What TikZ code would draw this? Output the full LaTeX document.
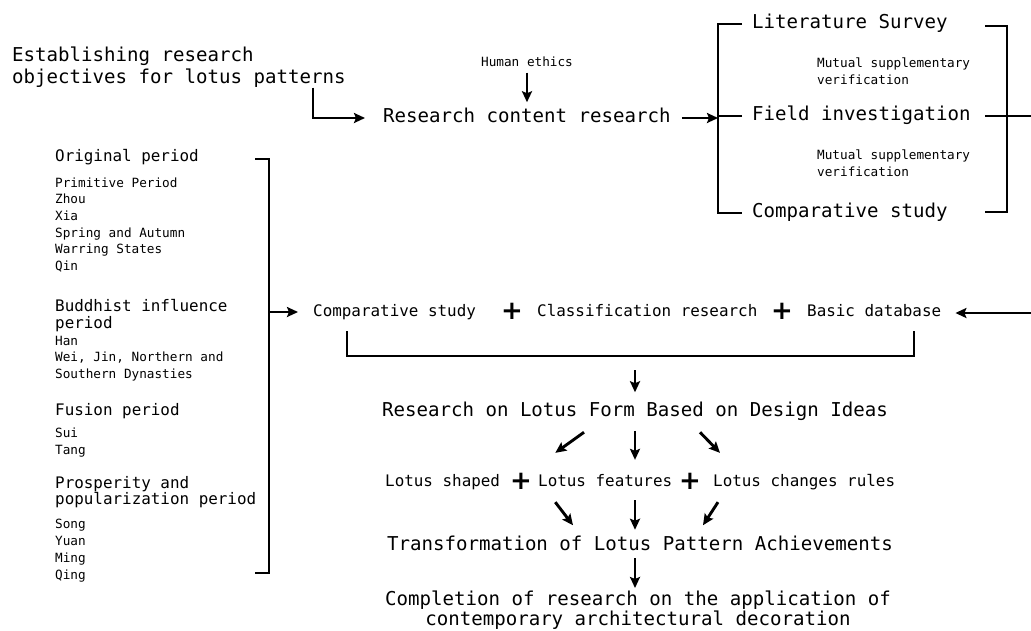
\documentclass[tikz,border=0pt]{standalone}
\usepackage{fontspec}
\setmainfont{DejaVu Sans Mono}
\newfontfamily\plusfont{DejaVu Sans}
\usetikzlibrary{arrows.meta}

\begin{document}
\begin{tikzpicture}[x=1pt, y=-1pt,
  line/.style={line width=2.9pt},
  arr/.style={line width=2.9pt, -{Stealth[length=11pt,width=10pt,inset=2pt]}},
  every node/.style={inner sep=0pt},
  big/.style={font=\fontsize{19.1}{21.7}\selectfont, text height=14.3pt, text depth=4.8pt},
  mid/.style={font=\fontsize{15.9}{17}\selectfont, text height=11.9pt, text depth=4pt},
  sm/.style={font=\fontsize{12.7}{16.8}\selectfont, text height=9.5pt, text depth=3.2pt},
  plus/.style={font=\plusfont\bfseries\fontsize{26}{26}\selectfont}]
\useasboundingbox (0,0) rectangle (1031,630);

\node[font=\fontsize{19.1}{21.7}\selectfont, align=left, anchor=north west] (title) at (12,47) {Establishing research\\objectives for lotus patterns};
\node[sm] (ethics) at (527,63) {Human ethics};
\node[big, anchor=west] (content) at (383,118) {Research content research};
\node[big, anchor=west] (lit) at (752,24) {Literature Survey};
\node[big, anchor=west] (field) at (752,116) {Field investigation};
\node[big, anchor=west] (comp) at (752,213) {Comparative study};
\node[font=\fontsize{12.7}{16.8}\selectfont, align=left, anchor=north west] (mut1) at (817,58) {Mutual supplementary\\verification};
\node[font=\fontsize{12.7}{16.8}\selectfont, align=left, anchor=north west] (mut2) at (817,150) {Mutual supplementary\\verification};

\node[mid, anchor=west] (orig) at (55,158) {Original period};
\foreach \t [count=\i] in {Primitive Period,Zhou,Xia,Spring and Autumn,Warring States,Qin}
  \node[sm, anchor=west] (o\i) at (55,{184+16.7*(\i-1)}) {\t};
\node[font=\fontsize{15.9}{17}\selectfont, align=left, anchor=north west] (budd) at (55,299) {Buddhist influence\\period};
\foreach \t [count=\i] in {Han,{Wei, Jin, Northern and},Southern Dynasties}
  \node[sm, anchor=west] (b\i) at (55,{342+16.5*(\i-1)}) {\t};
\node[mid, anchor=west] (fus) at (55,412) {Fusion period};
\foreach \t [count=\i] in {Sui,Tang}
  \node[sm, anchor=west] (f\i) at (55,{434+17*(\i-1)}) {\t};
\node[font=\fontsize{15.9}{16.5}\selectfont, align=left, anchor=north west] (pros) at (55,476) {Prosperity and\\popularization period};
\foreach \t [count=\i] in {Song,Yuan,Ming,Qing}
  \node[sm, anchor=west] (s\i) at (55,{525+17*(\i-1)}) {\t};

\node[mid, anchor=west] (cmp) at (313,313) {Comparative study};
\node[plus] (pa) at (512,311) {+};
\node[mid, anchor=west] (cls) at (537,313) {Classification research};
\node[plus] (pb) at (782,311) {+};
\node[mid, anchor=west] (basic) at (807,313) {Basic database};

\node[big] (form) at (635,412) {Research on Lotus Form Based on Design Ideas};
\node[mid, anchor=west] (shaped) at (385,483) {Lotus shaped};
\node[plus] (pc) at (521,481) {+};
\node[mid, anchor=west] (feat) at (538,483) {Lotus features};
\node[plus] (pd) at (690,481) {+};
\node[mid, anchor=west] (rules) at (713,483) {Lotus changes rules};
\node[big] (trans) at (640,546) {Transformation of Lotus Pattern Achievements};
\node[font=\fontsize{19.1}{16}\selectfont, align=center, anchor=north] (done) at (638,591) {Completion of research on the application of\\contemporary architectural decoration};

\draw[arr, shorten >=18pt] ([xshift=301pt]title.south west) |- (content.west);
\draw[arr, shorten <=3pt, shorten >=6pt] (ethics.south) -- (ethics.south |- content.north);
\coordinate (rbar) at ([xshift=-34pt]field.west);
\draw[arr, shorten <=11pt] (content.east) -- (content.east -| rbar);
\draw[line] ([xshift=-10pt]lit.west) -| ([xshift=-34pt]comp.west) -- ([xshift=-10pt]comp.west);
\draw[line] ([xshift=-10pt]field.west) -- (rbar);
\draw[line] (985,26) -| (1007,212) -- (985,212);
\coordinate (redge) at (1031,116);
\coordinate (bedge) at (1031,313);
\draw[line] (985,116) -- (redge);
\draw[arr, shorten >=14pt] (bedge) -- (basic.east);

\draw[line] (255,159) -| (269,573) -- (255,573);
\coordinate (lbar) at (269,312);
\draw[arr, shorten >=15pt] (lbar) -- (lbar -| cmp.west);

\draw[line] (347,331) |- (914,356) -- (914,331);
\coordinate (ubot) at (635,356);
\draw[arr, shorten <=14pt, shorten >=10pt] (ubot) -- (ubot |- form.north);

\draw[arr] ([xshift=-51pt,yshift=-10.5pt]form.south) -- ([xshift=55pt,yshift=22pt]shaped.north east);
\draw[arr, shorten <=9pt, shorten >=15pt] (form.south) -- (form.south |- feat.north);
\draw[arr] ([xshift=65pt,yshift=-10.5pt]form.south) -- ([xshift=7pt,yshift=22pt]rules.north west);
\draw[arr] ([xshift=55pt,yshift=-11pt]shaped.south east) -- ([xshift=-67pt,yshift=11pt]trans.north);
\draw[arr, shorten <=9pt, shorten >=6.5pt] (form.south |- feat.south) -- (form.south |- trans.north);
\draw[arr] ([xshift=5pt,yshift=-11pt]rules.south west) -- ([xshift=63pt,yshift=11pt]trans.north);
\draw[arr, shorten <=2.5pt, shorten >=3pt] (form.south |- trans.south) -- (form.south |- done.north);
\end{tikzpicture}
\end{document}
